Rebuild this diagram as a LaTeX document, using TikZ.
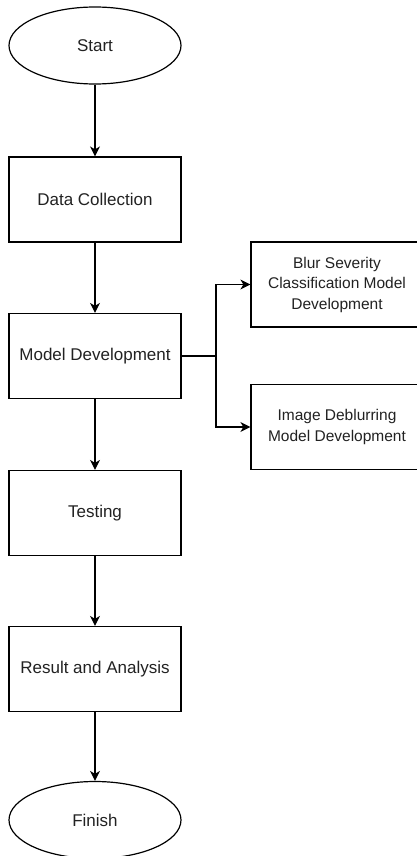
\documentclass[tikz,border=0pt]{standalone}
\usepackage{fontspec}
\setmainfont{Liberation Sans}
\usetikzlibrary{shapes.geometric,arrows.meta}
\definecolor{txt}{HTML}{222222}
\tikzset{
  base/.style={draw=black, line width=1.2pt, text=txt, inner sep=0pt, align=center},
  term/.style={base, ellipse, minimum width=172pt, minimum height=77pt, font=\fontsize{17}{20}\selectfont},
  proc/.style={base, rectangle, minimum width=172pt, minimum height=85pt, font=\fontsize{17}{20}\selectfont},
  sub/.style={base, rectangle, minimum width=172pt, minimum height=85pt, font=\fontsize{15.5}{20.5}\selectfont},
  conn/.style={draw=black, line width=1.2pt, -{Stealth[length=10pt,width=10pt,inset=3pt]}},
  plain/.style={draw=black, line width=1.2pt}
}
\begin{document}
\begin{tikzpicture}[x=1pt,y=-1pt]
\useasboundingbox (0,0) rectangle (417,856);
\clip (0,0) rectangle (417,856);
\fill[white] (0,0) rectangle (417,856);
\node[term] (start) at (95,45.5) {Start};
\node[proc] (dc) at (95,199.5) {Data Collection};
\node[proc] (md) at (95,356) {Model Development};
\node[proc] (test) at (95,513) {Testing};
\node[proc] (res) at (95,669) {Result and Analysis};
\node[term] (fin) at (95,820) {Finish};
\node[sub] (blur) at (337,284.5) {Blur Severity\\Classification Model\\Development};
\node[sub] (deb) at (337,427) {Image Deblurring\\Model Development};
\coordinate (jn) at (216,356);
\draw[conn] (start) -- (dc);
\draw[conn] (dc) -- (md);
\draw[conn] (md) -- (test);
\draw[conn] (test) -- (res);
\draw[conn] (res) -- (fin);
\draw[plain] (md.east) -- (jn);
\draw[conn] (jn) |- (blur.west);
\draw[conn] (jn) |- (deb.west);
\end{tikzpicture}
\end{document}
